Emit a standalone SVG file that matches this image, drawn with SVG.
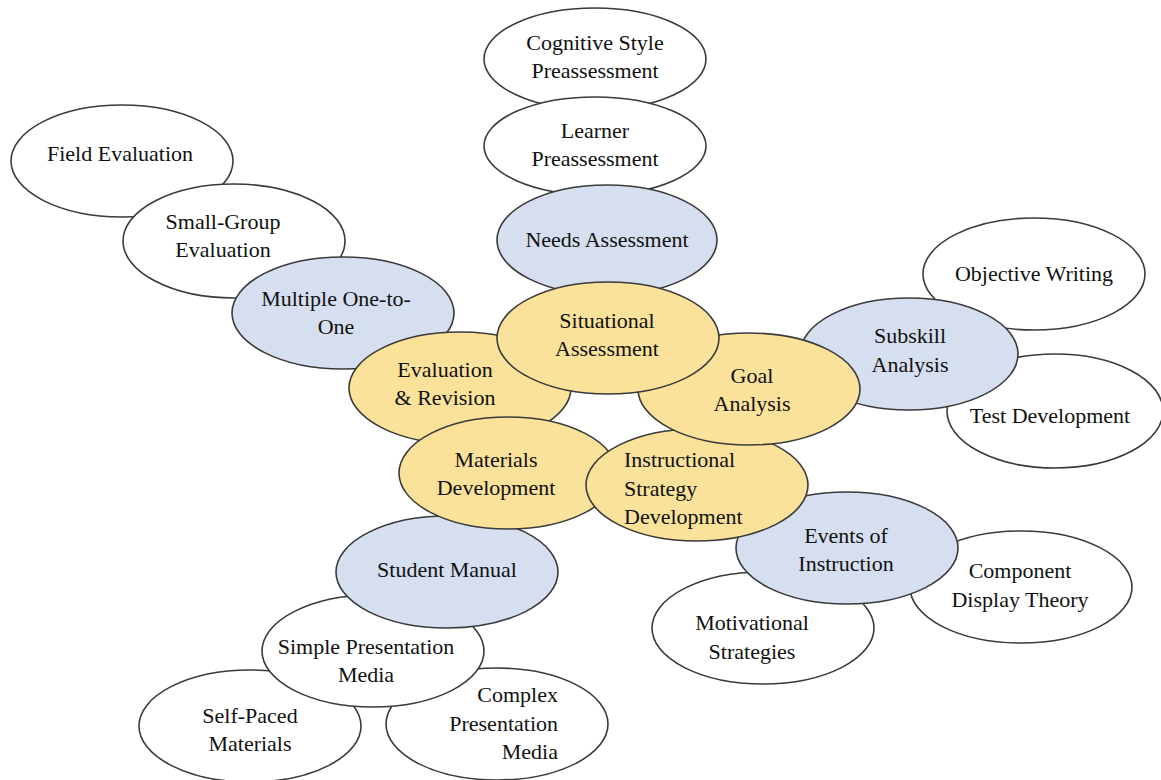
<svg xmlns="http://www.w3.org/2000/svg" width="1161" height="780" viewBox="0 0 1161 780" font-family="Liberation Serif, DejaVu Serif, serif">
  <style>
    ellipse { stroke: #3a3a3a; stroke-width: 1.6; }
    .leaf { fill: #ffffff; }
    .sub { fill: #d6dfef; }
    .core { fill: #fae29b; }
    text { font-size: 22px; fill: #111; text-anchor: middle; }
    .l { text-anchor: start; }
    .r { text-anchor: end; }
  </style>
  <rect width="1161" height="780" fill="#ffffff"/>
  <!-- outer ring first, core ellipses last so they sit on top -->
  <g id="field-evaluation"><ellipse class="leaf" cx="122" cy="161" rx="111" ry="56"/><text x="120" y="161">Field Evaluation</text></g>
  <g id="small-group-evaluation"><ellipse class="leaf" cx="234" cy="241" rx="111" ry="57"/><text x="223" y="229">Small-Group</text><text x="223" y="257">Evaluation</text></g>
  <g id="multiple-one-to-one"><ellipse class="sub" cx="343" cy="313" rx="111" ry="56"/><text x="336" y="306">Multiple One-to-</text><text x="336" y="334">One</text></g>
  <g id="evaluation-revision"><ellipse class="core" cx="460" cy="388" rx="111" ry="56"/><text x="445" y="377">Evaluation</text><text x="445" y="405">&amp; Revision</text></g>
  <g id="cognitive-style"><ellipse class="leaf" cx="595" cy="59" rx="111" ry="51"/><text x="595" y="50">Cognitive Style</text><text x="595" y="78">Preassessment</text></g>
  <g id="learner-preassessment"><ellipse class="leaf" cx="595" cy="146" rx="111" ry="49"/><text x="595" y="138">Learner</text><text x="595" y="166">Preassessment</text></g>
  <g id="needs-assessment"><ellipse class="sub" cx="607" cy="240" rx="110" ry="55"/><text x="607" y="247">Needs Assessment</text></g>
  <g id="objective-writing"><ellipse class="leaf" cx="1034" cy="274" rx="111" ry="56"/><text x="1034" y="281">Objective Writing</text></g>
  <g id="test-development"><ellipse class="leaf" cx="1055" cy="411" rx="108" ry="57"/><text x="1050" y="423">Test Development</text></g>
  <g id="subskill-analysis"><ellipse class="sub" cx="909" cy="354" rx="109" ry="56"/><text x="910" y="343">Subskill</text><text x="910" y="372">Analysis</text></g>
  <g id="component-display-theory"><ellipse class="leaf" cx="1021" cy="587" rx="111" ry="56"/><text x="1020" y="578">Component</text><text x="1020" y="607">Display Theory</text></g>
  <g id="motivational-strategies"><ellipse class="leaf" cx="763" cy="628" rx="111" ry="56"/><text x="752" y="630">Motivational</text><text x="752" y="659">Strategies</text></g>
  <g id="events-of-instruction"><ellipse class="sub" cx="847" cy="548" rx="111" ry="56"/><text x="846" y="543">Events of</text><text x="846" y="571">Instruction</text></g>
  <g id="self-paced-materials"><ellipse class="leaf" cx="250" cy="726" rx="111" ry="56"/><text x="250" y="723">Self-Paced</text><text x="250" y="751">Materials</text></g>
  <g id="complex-presentation-media"><ellipse class="leaf" cx="497" cy="724" rx="111" ry="56"/><text class="r" x="558" y="702">Complex</text><text class="r" x="558" y="731">Presentation</text><text class="r" x="558" y="759">Media</text></g>
  <g id="simple-presentation-media"><ellipse class="leaf" cx="373" cy="651" rx="111" ry="56"/><text x="366" y="654">Simple Presentation</text><text x="366" y="682">Media</text></g>
  <g id="student-manual"><ellipse class="sub" cx="447" cy="572" rx="111" ry="56"/><text x="447" y="577">Student Manual</text></g>
  <g id="materials-development"><ellipse class="core" cx="508" cy="473" rx="109" ry="56"/><text x="496" y="467">Materials</text><text x="496" y="495">Development</text></g>
  <g id="instructional-strategy"><ellipse class="core" cx="697" cy="485" rx="111" ry="56"/><text class="l" x="624" y="467">Instructional</text><text class="l" x="624" y="496">Strategy</text><text class="l" x="624" y="524">Development</text></g>
  <g id="goal-analysis"><ellipse class="core" cx="749" cy="389" rx="111" ry="56"/><text x="752" y="383">Goal</text><text x="752" y="411">Analysis</text></g>
  <g id="situational-assessment"><ellipse class="core" cx="608" cy="338" rx="111" ry="56"/><text x="607" y="328">Situational</text><text x="607" y="356">Assessment</text></g>
  <g id="connectors"></g>
</svg>
